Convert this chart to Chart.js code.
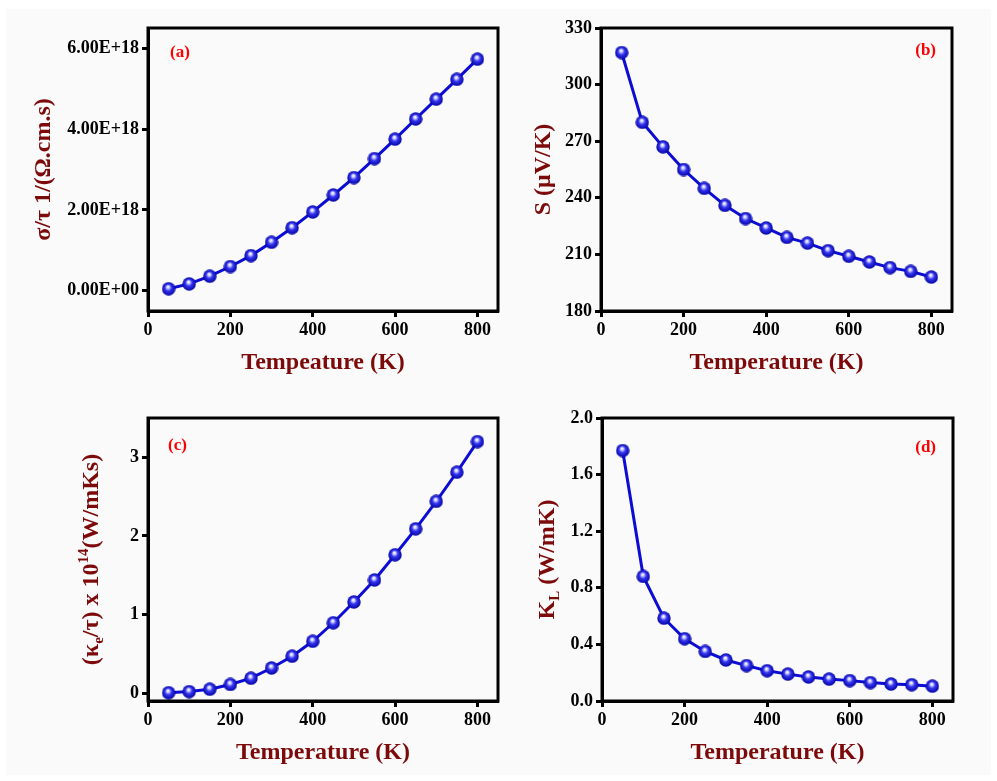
<!DOCTYPE html>
<html>
<head>
<meta charset="utf-8">
<script src="https://cdn.jsdelivr.net/npm/chart.js@4/dist/chart.umd.min.js"></script>
<style>
  html, body { margin: 0; padding: 0; background: #ffffff; }
  #fig { position: relative; width: 997px; height: 781px; overflow: hidden; }
  #sheet { position: absolute; left: 6px; top: 9px; width: 985px; height: 766px; background: #fafafa; }
  .panel { position: absolute; }
</style>
</head>
<body>
<div id="fig">
  <div id="sheet"></div>
  <canvas id="pa" class="panel" width="510" height="390" style="left:0;top:0;width:510px;height:390px"></canvas>
  <canvas id="pb" class="panel" width="487" height="390" style="left:510px;top:0;width:487px;height:390px"></canvas>
  <canvas id="pc" class="panel" width="510" height="390" style="left:0;top:390px;width:510px;height:390px"></canvas>
  <canvas id="pd" class="panel" width="487" height="390" style="left:510px;top:390px;width:487px;height:390px"></canvas>
</div>
<script>
// Temperature grid (K)
const temperatures = [50, 100, 150, 200, 250, 300, 350, 400, 450, 500, 550, 600, 650, 700, 750, 800];

// (a) electrical conductivity over relaxation time, 1/(Ω.cm.s)
const sigmaTau = [0.05e18, 0.17e18, 0.36e18, 0.60e18, 0.87e18, 1.20e18, 1.56e18, 1.95e18,
                  2.37e18, 2.80e18, 3.27e18, 3.75e18, 4.25e18, 4.74e18, 5.23e18, 5.73e18];
// (b) Seebeck coefficient, µV/K
const seebeck = [317, 280, 267, 255, 245, 236, 229, 224, 219, 216, 212, 209, 206, 203, 201, 198];
// (c) electronic thermal conductivity over relaxation time, x 10^14 W/mKs
const kappaE = [0.005, 0.02, 0.05, 0.11, 0.19, 0.32, 0.47, 0.66, 0.895, 1.16, 1.44, 1.76, 2.09, 2.44, 2.81, 3.20];
// (d) lattice thermal conductivity, W/mK
const kappaL = [1.77, 0.88, 0.585, 0.44, 0.35, 0.29, 0.25, 0.214, 0.19, 0.17, 0.155, 0.144, 0.13, 0.12, 0.115, 0.105];

// Tick values
const tempTicks = [0, 200, 400, 600, 800];
const sigmaTicks = [0, 2e18, 4e18, 6e18];
const seebeckTicks = [180, 210, 240, 270, 300, 330];
const kappaETicks = [0, 1, 2, 3];
const kappaLTicks = [0, 0.4, 0.8, 1.2, 1.6, 2.0];

const SERIF = "'Liberation Serif', 'Times New Roman', serif";
const TITLE_RED = '#7d0a0a';
const LINE_BLUE = '#0c0cd4';

// shaded sphere used as the point marker
function makeSphere(d) {
  const c = document.createElement('canvas');
  c.width = d; c.height = d;
  const g = c.getContext('2d');
  const r = d / 2;
  const grad = g.createRadialGradient(r * 0.9, r * 0.7, 0.3, r, r, r);
  grad.addColorStop(0, '#ffffff');
  grad.addColorStop(0.18, '#c8c8ff');
  grad.addColorStop(0.45, '#3535f0');
  grad.addColorStop(1, '#0000a0');
  g.fillStyle = grad;
  g.beginPath();
  g.arc(r, r, r - 0.3, 0, Math.PI * 2);
  g.fill();
  return c;
}
const sphere = makeSphere(14);

function sci(v) {
  if (v === 0) return '0.00E+00';
  const e = Math.floor(Math.log10(Math.abs(v)) + 1e-9);
  const m = v / Math.pow(10, e);
  return m.toFixed(2) + 'E+' + String(e).padStart(2, '0');
}

// frame, rich y-axis title and panel letter
const decorPlugin = {
  id: 'decor',
  afterDraw(chart, args, opts) {
    const ctx = chart.ctx;
    const a = chart.chartArea;
    ctx.save();
    // closed black frame
    ctx.strokeStyle = '#000';
    ctx.lineWidth = 3;
    ctx.strokeRect(a.left, a.top, a.right - a.left, a.bottom - a.top);

    // y title composed of segments (sub/superscripts)
    const size = 24;
    const segs = opts.yTitle;
    const fontMain = 'bold ' + size + 'px ' + SERIF;
    const fontSmall = 'bold ' + Math.round(size * 0.62) + 'px ' + SERIF;
    let total = 0;
    segs.forEach(s => {
      ctx.font = (s.sub || s.sup) ? fontSmall : fontMain;
      s.w = ctx.measureText(s.t).width;
      total += s.w;
    });
    const cy = (a.top + a.bottom) / 2;
    ctx.translate(opts.yTitleX, cy);
    ctx.rotate(-Math.PI / 2);
    ctx.fillStyle = TITLE_RED;
    ctx.textBaseline = 'alphabetic';
    ctx.textAlign = 'left';
    let x = -total / 2;
    const base = size * 0.33;
    segs.forEach(s => {
      ctx.font = (s.sub || s.sup) ? fontSmall : fontMain;
      let y = base;
      if (s.sub) y = base + size * 0.22;
      if (s.sup) y = base - size * 0.42;
      ctx.fillText(s.t, x, y);
      x += s.w;
    });
    ctx.restore();

    // panel letter
    ctx.save();
    ctx.font = 'bold 17px ' + SERIF;
    ctx.fillStyle = '#ff0000';
    ctx.textBaseline = 'middle';
    ctx.textAlign = opts.letterAlign;
    ctx.fillText(opts.letter, opts.letterX, opts.letterY);
    ctx.restore();
  }
};

function buildPanel(id, cfg) {
  const points = temperatures.map((t, i) => ({ x: t, y: cfg.values[i] }));
  const tickFont = { family: SERIF, size: 18, weight: 'bold' };
  new Chart(document.getElementById(id), {
    type: 'line',
    data: {
      datasets: [{
        data: points,
        borderColor: LINE_BLUE,
        borderWidth: 3,
        pointStyle: sphere,
        pointRadius: 7,
        tension: 0,
        fill: false
      }]
    },
    options: {
      responsive: false,
      animation: false,
      events: [],
      layout: { padding: { top: 28, right: cfg.padRight, left: 0, bottom: 0 } },
      plugins: {
        legend: { display: false },
        tooltip: { enabled: false },
        decor: {
          yTitle: cfg.yTitle, yTitleX: cfg.yTitleX,
          letter: cfg.letter, letterX: cfg.letterX, letterY: cfg.letterY, letterAlign: cfg.letterAlign
        }
      },
      scales: {
        x: {
          type: 'linear',
          min: 0, max: 850,
          afterBuildTicks: s => { s.ticks = tempTicks.map(v => ({ value: v })); },
          afterFit: s => { s.height = 79; },
          grid: { display: true, drawOnChartArea: false, drawTicks: true, tickLength: 6, tickWidth: 3, tickColor: '#000' },
          border: { display: true, color: '#000', width: 3 },
          ticks: { color: '#000', font: tickFont, padding: 3, maxRotation: 0, callback: v => String(v) },
          title: { display: true, text: cfg.xTitle, color: TITLE_RED,
                   font: { family: SERIF, size: 24, weight: 'bold' }, padding: { top: 0, bottom: 13 } }
        },
        y: {
          type: 'linear',
          min: cfg.yMin, max: cfg.yMax,
          afterBuildTicks: s => { s.ticks = cfg.yTicks.map(v => ({ value: v })); },
          afterFit: s => { s.width = cfg.yWidth; },
          grid: { display: true, drawOnChartArea: false, drawTicks: true, tickLength: 6, tickWidth: 3, tickColor: '#000' },
          border: { display: true, color: '#000', width: 3 },
          ticks: { color: '#000', font: tickFont, padding: 3, callback: cfg.yFormat }
        }
      }
    },
    plugins: [decorPlugin]
  });
}

buildPanel('pa', {
  values: sigmaTau, yMin: -0.5e18, yMax: 6.5e18, yTicks: sigmaTicks, yFormat: v => sci(v),
  yWidth: 148, padRight: 12,
  xTitle: 'Tempeature (K)',
  yTitle: [{ t: 'σ/τ 1/(Ω.cm.s)' }], yTitleX: 42,
  letter: '(a)', letterX: 170, letterY: 53, letterAlign: 'left'
});

buildPanel('pb', {
  values: seebeck, yMin: 180, yMax: 330, yTicks: seebeckTicks, yFormat: v => String(v),
  yWidth: 91, padRight: 45,
  xTitle: 'Temperature (K)',
  yTitle: [{ t: 'S (μV/K)' }], yTitleX: 32,
  letter: '(b)', letterX: 426, letterY: 51, letterAlign: 'right'
});

buildPanel('pc', {
  values: kappaE, yMin: -0.1, yMax: 3.5, yTicks: kappaETicks, yFormat: v => String(v),
  yWidth: 148, padRight: 12,
  xTitle: 'Temperature (K)',
  yTitle: [{ t: '(κ' }, { t: 'e', sub: true }, { t: '/τ) x 10' }, { t: '14', sup: true }, { t: '(W/mKs)' }],
  yTitleX: 90,
  letter: '(c)', letterX: 168, letterY: 56, letterAlign: 'left'
});

buildPanel('pd', {
  values: kappaL, yMin: 0, yMax: 2.0, yTicks: kappaLTicks, yFormat: v => v.toFixed(1),
  yWidth: 92, padRight: 44,
  xTitle: 'Temperature (K)',
  yTitle: [{ t: 'K' }, { t: 'L', sub: true }, { t: ' (W/mK)' }], yTitleX: 36,
  letter: '(d)', letterX: 426, letterY: 58, letterAlign: 'right'
});
</script>
</body>
</html>
